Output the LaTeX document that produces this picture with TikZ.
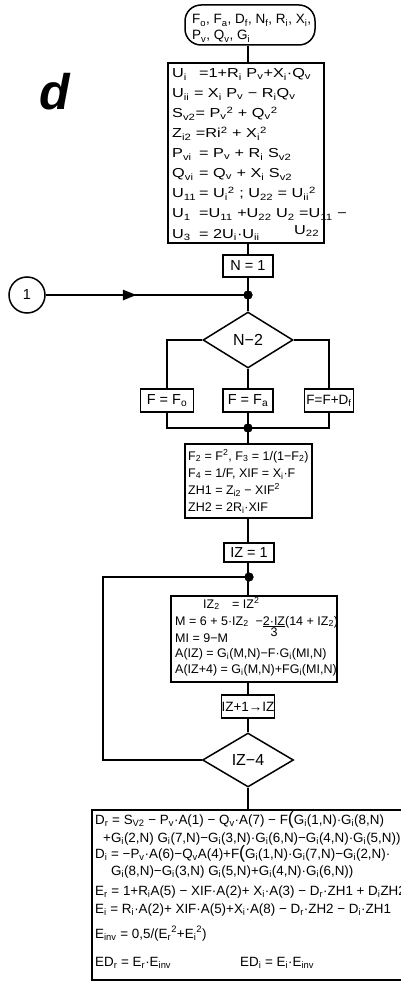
\documentclass[tikz,border=0pt]{standalone}
\usepackage{fontspec}
\setmainfont{Liberation Sans}
\newfontfamily\wide{Liberation Sans}[FakeStretch=1.25]
\usetikzlibrary{shapes.geometric,arrows.meta,decorations.markings}
\newcommand\sbs[1]{\textsubscript{#1}}
\newcommand\sps[1]{\textsuperscript{#1}}
\newcommand\lhs[1]{\makebox[27pt][l]{#1}}
\begin{document}
\begin{tikzpicture}[x=1pt,y=-1pt,
  conn/.style={line width=2.8pt},
  box/.style={draw,line width=1.5pt,rectangle,inner sep=0pt},
  txt/.style={anchor=base west,inner sep=0pt,font=\fontsize{12.5}{14}\selectfont},
  wtxt/.style={anchor=base west,inner sep=0pt,font=\wide\fontsize{13}{14}\selectfont},
  sm/.style={anchor=base west,inner sep=0pt,font=\fontsize{13.4}{15}\selectfont},
  lbl/.style={font=\fontsize{14.5}{16}\selectfont},
  dot/.style={circle,fill=black,inner sep=0pt,minimum size=9pt},
  dec/.style={diamond,draw,line width=1.5pt,inner sep=0pt,font=\fontsize{16}{18}\selectfont},
]
\useasboundingbox (0,0) rectangle (401,984);

% start terminator
\node[box,rounded corners=16pt,minimum width=130pt,minimum height=40pt] (start) at (250,25) {};
\node[txt,font=\fontsize{13.5}{15}\selectfont] (s1) at (192,24) {F\sbs{o}, F\sbs{a}, D\sbs{f}, N\sbs{f}, R\sbs{i}, X\sbs{i},};
\node[txt,font=\fontsize{13.5}{15}\selectfont] (s2) at (192,40) {P\sbs{v}, Q\sbs{v}, G\sbs{i}};

\node[font=\bfseries\itshape\fontsize{50}{50}\selectfont,inner sep=0pt] (lab) at (55,92) {d};

% box 1
\node[box,minimum width=156pt,minimum height=180pt] (b1) at (246,153) {};
\node[wtxt] (b1a) at (172,78)  {\lhs{U\sbs{i}}=1+R\sbs{i} P\sbs{v}+X\sbs{i}·Q\sbs{v}};
\node[wtxt] (b1b) at (172,98)  {U\sbs{ii} = X\sbs{i} P\sbs{v} − R\sbs{i}Q\sbs{v}};
\node[wtxt] (b1c) at (172,118) {S\sbs{v2}= P\sbs{v}\sps{2} + Q\sbs{v}\sps{2}};
\node[wtxt] (b1d) at (172,138) {Z\sbs{i2} =Ri\sps{2} + X\sbs{i}\sps{2}};
\node[wtxt] (b1e) at (172,158) {\lhs{P\sbs{vi}}= P\sbs{v} + R\sbs{i} S\sbs{v2}};
\node[wtxt] (b1f) at (172,178) {\lhs{Q\sbs{vi}}= Q\sbs{v} + X\sbs{i} S\sbs{v2}};
\node[wtxt] (b1g) at (172,198) {\lhs{U\sbs{11}}= U\sbs{i}\sps{2} ; U\sbs{22} = U\sbs{ii}\sps{2}};
\node[wtxt] (b1h) at (172,218) {\lhs{U\sbs{1}}=U\sbs{11} +U\sbs{22} U\sbs{2} =U\sbs{11} −};
\node[wtxt] (b1i) at (172,238) {\lhs{U\sbs{3}}= 2U\sbs{i}·U\sbs{ii}};
\node[wtxt] (b1j) at (294,234) {U\sbs{22}};

% N = 1
\node[box,lbl,minimum width=50pt,minimum height=22pt] (n1) at (248,266) {N = 1};
\node[dot] (j1) at (248,295) {};
\node[draw,circle,line width=1.5pt,minimum size=36pt,inner sep=0pt,lbl] (c1) at (27,295) {1};

% decision N-2
\node[dec,minimum width=90pt,minimum height=56pt] (d1) at (248,340) {N−2};

\node[box,lbl,minimum width=53pt,minimum height=23pt] (fo) at (167,400.5) {F = F\sbs{o}};
\node[box,lbl,minimum width=50pt,minimum height=23pt] (fa) at (248,400.5) {F = F\sbs{a}};
\node[box,lbl,minimum width=49pt,minimum height=23pt,font=\fontsize{13.5}{15}\selectfont] (fdf) at (329,400.5) {F=F+D\sbs{f}};
\node[dot] (j2) at (248,428) {};

% box 2
\node[box,minimum width=127pt,minimum height=74pt] (b2) at (248.5,481) {};
\node[txt] (b2a) at (188,460) {F\sbs{2} = F\sps{2}, F\sbs{3} = 1/(1−F\sbs{2})};
\node[txt] (b2b) at (188,477) {F\sbs{4} = 1/F, XIF = X\sbs{i}·F};
\node[txt] (b2c) at (188,494) {ZH1 = Z\sbs{i2} − XIF\sps{2}};
\node[txt] (b2d) at (188,511) {ZH2 = 2R\sbs{i}·XIF};

\node[box,lbl,minimum width=50pt,minimum height=19pt] (iz1) at (249,552.5) {IZ = 1};
\node[dot] (j3) at (249,577) {};

% box 3
\node[box,minimum width=166pt,minimum height=86pt] (b3) at (254,639) {};
\node[txt] (b3a) at (203,608) {IZ\sbs{2}\quad = IZ\sps{2}};
\node[txt] (b3b) at (175,625) {M = 6 + 5·IZ\sbs{2}\ \ −\smash{\begin{tabular}[t]{@{}c@{}}\underline{2·IZ}\\[-3pt]3\end{tabular}}(14 + IZ\sbs{2})};
\node[txt] (b3c) at (175,642) {MI = 9−M};
\node[txt] (b3d) at (175,657) {A(IZ) = G\sbs{i}(M,N)−F·G\sbs{i}(MI,N)};
\node[txt] (b3e) at (175,673) {A(IZ+4) = G\sbs{i}(M,N)+FG\sbs{i}(MI,N)};

\node[box,lbl,minimum width=50pt,minimum height=23pt,font=\fontsize{13.5}{15}\selectfont] (inc) at (248,706.5) {IZ+1→IZ};
\node[dec,minimum width=91pt,minimum height=54pt] (d2) at (248,760) {IZ−4};
\coordinate (lp) at (103,760);

% final box
\node[box,minimum width=368pt,minimum height=170pt] (b4) at (276,895) {};
\node[sm] (b4a) at (95,824) {D\sbs{r} = S\sbs{V2} − P\sbs{v}·A(1) − Q\sbs{v}·A(7) − F{\fontsize{18}{18}\selectfont(}G\sbs{i}(1,N)·G\sbs{i}(8,N)};
\node[sm] (b4b) at (103,842) {+G\sbs{i}(2,N) G\sbs{i}(7,N)−G\sbs{i}(3,N)·G\sbs{i}(6,N)−G\sbs{i}(4,N)·G\sbs{i}(5,N))};
\node[sm] (b4c) at (95,858) {D\sbs{i} = −P\sbs{v}·A(6)−Q\sbs{v}A(4)+F{\fontsize{18}{18}\selectfont(}G\sbs{i}(1,N)·G\sbs{i}(7,N)−G\sbs{i}(2,N)·};
\node[sm] (b4d) at (111,875) {G\sbs{i}(8,N)−G\sbs{i}(3,N) G\sbs{i}(5,N)+G\sbs{i}(4,N)·G\sbs{i}(6,N))};
\node[sm] (b4e) at (95,895) {E\sbs{r} = 1+R\sbs{i}A(5) − XIF·A(2)+ X\sbs{i}·A(3) − D\sbs{r}·ZH1 + D\sbs{i}ZH2};
\node[sm] (b4f) at (95,913) {E\sbs{i} = R\sbs{i}·A(2)+ XIF·A(5)+X\sbs{i}·A(8) − D\sbs{r}·ZH2 − D\sbs{i}·ZH1};
\node[sm] (b4g) at (95,938) {E\sbs{inv} = 0,5/(E\sbs{r}\sps{2}+E\sbs{i}\sps{2})};
\node[sm] (b4h) at (95,966) {ED\sbs{r} = E\sbs{r}·E\sbs{inv}};
\node[sm] (b4i) at (240,966) {ED\sbs{i} = E\sbs{i}·E\sbs{inv}};

% connectors
\draw[conn] (start.south -| n1) -- (b1.north -| n1);
\draw[conn] (b1.south -| n1) -- (n1.north);
\draw[conn] (n1.south) -- (d1.north);
\draw[conn,decoration={markings,mark=at position 0.45 with {\arrow{Triangle[length=14pt,width=10pt]}}},postaction={decorate}] (c1.east) -- (j1.center);
\draw[conn] (d1.west) -| (fo.north);
\draw[conn] (d1.east) -| (fdf.north);
\draw[conn] (d1.south) -- (fa.north);
\draw[conn] (fo.south) |- (j2.center) -| (fdf.south);
\draw[conn] (fa.south) -- (b2.north -| fa);
\draw[conn] (b2.south -| fa) -- (iz1.north -| fa);
\draw[conn] (iz1.south -| fa) -- (b3.north -| fa);
\draw[conn] (b3.south -| fa) -- (inc.north);
\draw[conn] (inc.south) -- (d2.north);
\draw[conn] (d2.south) -- (b4.north -| d2);
\draw[conn] (d2.west) -- (lp) |- (j3.center);
\node[dot] at (j1) {};
\node[dot] at (j2) {};
\node[dot] at (j3) {};
\end{tikzpicture}
\end{document}
